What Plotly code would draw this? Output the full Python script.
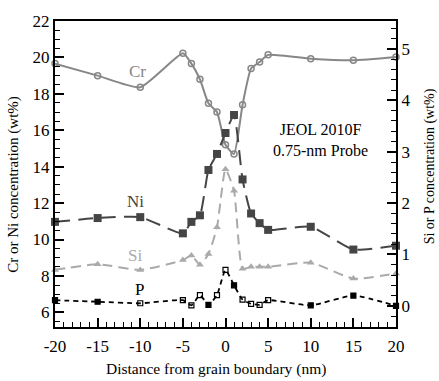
import plotly.graph_objects as go

distance = [-20, -15, -10, -5, -4, -3, -2, -1, 0, 1, 2, 3, 4, 5, 10, 15, 20]
cr = [19.66, 19.0, 18.36, 20.23, 19.66, 18.8, 17.48, 17.0, 15.2, 14.7, 17.4, 19.39, 19.75, 20.14, 19.93, 19.84, 20.02]
ni = [10.97, 11.18, 11.23, 10.34, 10.97, 11.33, 13.82, 14.7, 15.85, 16.84, 13.3, 11.43, 10.9, 10.53, 10.7, 9.45, 9.66]
si = [0.70, 0.81, 0.70, 0.89, 0.98, 0.80, 1.01, 1.53, 2.66, 2.24, 0.72, 0.76, 0.76, 0.76, 0.84, 0.53, 0.63]
p = [0.11, 0.08, 0.05, 0.11, 0.01, 0.21, 0.02, 0.21, 0.70, 0.40, 0.12, 0.04, 0.02, 0.11, 0.01, 0.20, 0.0]
p_open = [False, False, True, True, True, True, False, True, True, False, True, True, True, True, False, False, False]

x_ticks = [-20, -15, -10, -5, 0, 5, 10, 15, 20]
x_ticktext = ["-20", "-15", "-10", "-5", "0", "5", "10", "15", "20"]
y_ticks = [6, 8, 10, 12, 14, 16, 18, 20, 22]
y2_ticks = [0, 1, 2, 3, 4, 5]

FONT = "Liberation Serif, Times New Roman, serif"
CR_C = "#878787"
NI_C = "#454545"
SI_C = "#aaaaaa"
P_C = "#000000"

fig = go.Figure()
fig.add_trace(go.Scatter(x=distance, y=cr, mode="lines+markers", cliponaxis=False,
                         line=dict(color=CR_C, width=2, shape="spline", smoothing=0.5),
                         marker=dict(symbol="circle-open", size=6, color=CR_C, line=dict(width=1.5))))
fig.add_trace(go.Scatter(x=distance, y=ni, mode="lines+markers", cliponaxis=False,
                         line=dict(color=NI_C, width=2, shape="spline", smoothing=0.5, dash="15px,8px"),
                         marker=dict(symbol="square", size=8, color=NI_C)))
fig.add_trace(go.Scatter(x=distance, y=si, mode="lines+markers", cliponaxis=False, yaxis="y2",
                         line=dict(color=SI_C, width=2, shape="spline", smoothing=0.5, dash="10px,6px"),
                         marker=dict(symbol="triangle-up", size=7, color=SI_C)))
fig.add_trace(go.Scatter(x=distance, y=p, mode="lines+markers", cliponaxis=False, yaxis="y2",
                         line=dict(color=P_C, width=1.8, shape="spline", smoothing=0.5, dash="5px,4px"),
                         marker=dict(symbol=["square-open" if o else "square" for o in p_open],
                                     size=5, color=P_C, line=dict(width=1.2, color=P_C))))

axis_common = dict(showline=True, linecolor="black", linewidth=2, ticks="inside",
                   tickcolor="black", tickwidth=1.5, ticklen=9, showgrid=False, zeroline=False,
                   tickfont=dict(family=FONT, size=17, color="black"))
minor_common = dict(ticks="inside", ticklen=5, tickcolor="black", tickwidth=1.2)

fig.update_layout(
    width=439, height=381,
    margin=dict(l=55, r=43, t=13, b=54),
    paper_bgcolor="white", plot_bgcolor="white",
    showlegend=False,
    font=dict(family=FONT, color="black"),
    xaxis=dict(range=[-20, 20], tickvals=x_ticks, ticktext=x_ticktext, mirror=True,
               ticklabelstandoff=3, minor=dict(dtick=1, **minor_common), **axis_common),
    yaxis=dict(range=[5.197, 22], tickvals=y_ticks, minor=dict(dtick=0.5, **minor_common), **axis_common),
    yaxis2=dict(range=[-0.412, 5.545], tickvals=y2_ticks, overlaying="y", side="right",
                minor=dict(dtick=0.2, **minor_common), **axis_common),
)

# axis titles
fig.add_annotation(xref="paper", yref="paper", x=0.472, y=-0.137, xanchor="center", yanchor="middle",
                   text="Distance from grain boundary (nm)",
                   showarrow=False, font=dict(family=FONT, size=15.5, color="black"))
fig.add_annotation(xref="paper", yref="paper", x=-0.120, y=0.465, xanchor="center", yanchor="middle",
                   text="Cr or Ni concentration (wt%)",
                   textangle=-90, showarrow=False, font=dict(family=FONT, size=15, color="black"))
fig.add_annotation(xref="paper", yref="paper", x=1.0997, y=0.525, xanchor="center", yanchor="middle",
                   text="Si or P concentration (wt%)",
                   textangle=-90, showarrow=False, font=dict(family=FONT, size=14, color="black"))

labels = [("Cr", -10.35, 19.2, CR_C), ("Ni", -10.5, 12.1, NI_C), ("Si", -10.6, 9.14, SI_C), ("P", -10.1, 7.27, P_C)]
for txt, lx, ly, col in labels:
    fig.add_annotation(x=lx, y=ly, text=txt, showarrow=False, font=dict(family=FONT, size=17, color=col))
fig.add_annotation(x=11.1, y=15.47, text="JEOL 2010F<br>0.75-nm Probe", showarrow=False, align="center",
                   xanchor="center", yanchor="middle",
                   font=dict(family=FONT, size=16, color="black"))

fig.write_html("out.html")
